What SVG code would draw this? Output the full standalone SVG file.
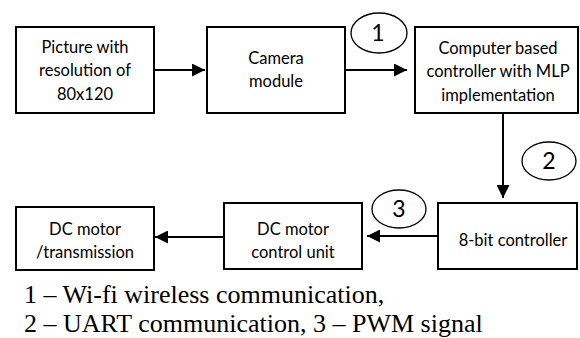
<svg xmlns="http://www.w3.org/2000/svg" width="580" height="338" viewBox="0 0 580 338">
  <style>
    .box { fill: #fff; stroke: #000; stroke-width: 2; }
    .lbl { font-family: Lato, "Open Sans", "Liberation Sans", sans-serif; font-size: 16.5px; fill: #000; text-anchor: middle; }
    .tag { fill: #fff; stroke: #000; stroke-width: 1.3; }
    .num { font-family: Lato, "Liberation Sans", sans-serif; font-size: 23px; fill: #000; text-anchor: middle; }
    .wire { stroke: #000; stroke-width: 2; fill: none; marker-end: url(#head); }
    .note { font-family: "Liberation Serif", "Times New Roman", serif; font-size: 26px; fill: #000; }
  </style>
  <defs>
    <marker id="head" viewBox="0 0 10 10" refX="10" refY="5" markerWidth="6.5" markerHeight="6.5" markerUnits="strokeWidth" orient="auto">
      <path d="M0,0 L10,5 L0,10 z" fill="#000"/>
    </marker>
  </defs>

  <g id="connectors">
    <line class="wire" x1="154" y1="70" x2="205" y2="70"/>
    <line class="wire" x1="345" y1="70" x2="407" y2="70"/>
    <line class="wire" x1="503" y1="113" x2="503" y2="198"/>
    <line class="wire" x1="438" y1="236" x2="367" y2="236"/>
    <line class="wire" x1="224" y1="237" x2="155" y2="237"/>
  </g>

  <g id="picture">
    <rect class="box" x="16" y="27" width="138" height="86"/>
    <text class="lbl" x="85" y="53">Picture with</text>
    <text class="lbl" x="85" y="76">resolution of</text>
    <text class="lbl" x="85" y="100">80x120</text>
  </g>

  <g id="camera">
    <rect class="box" x="207" y="27" width="138" height="86"/>
    <text class="lbl" x="276" y="64">Camera</text>
    <text class="lbl" x="276" y="87">module</text>
  </g>

  <g id="computer">
    <rect class="box" x="415" y="27" width="163" height="86"/>
    <text class="lbl" x="498" y="54">Computer based</text>
    <text class="lbl" x="498" y="77">controller with MLP</text>
    <text class="lbl" x="498" y="101">implementation</text>
  </g>

  <g id="mcu8">
    <rect class="box" x="438" y="203" width="139" height="66"/>
    <text class="lbl" x="513" y="246">8-bit controller</text>
  </g>

  <g id="motor-ctrl">
    <rect class="box" x="224" y="203" width="138" height="66"/>
    <text class="lbl" x="293" y="235">DC motor</text>
    <text class="lbl" x="293" y="258">control unit</text>
  </g>

  <g id="motor">
    <rect class="box" x="16" y="207" width="138" height="63"/>
    <text class="lbl" x="85" y="235">DC motor</text>
    <text class="lbl" x="85" y="258">/transmission</text>
  </g>

  <g id="tag1">
    <ellipse class="tag" cx="379" cy="33" rx="28" ry="20"/>
    <text class="num" x="378" y="41">1</text>
  </g>
  <g id="tag2">
    <ellipse class="tag" cx="549" cy="161" rx="27" ry="19"/>
    <text class="num" x="549" y="169">2</text>
  </g>
  <g id="tag3">
    <ellipse class="tag" cx="399" cy="209" rx="27" ry="19"/>
    <text class="num" x="399" y="217">3</text>
  </g>

  <g id="legend">
    <text class="note" x="24" y="303">1 – Wi-fi wireless communication,</text>
    <text class="note" x="24" y="332">2 – UART communication, 3 – PWM signal</text>
  </g>
</svg>
